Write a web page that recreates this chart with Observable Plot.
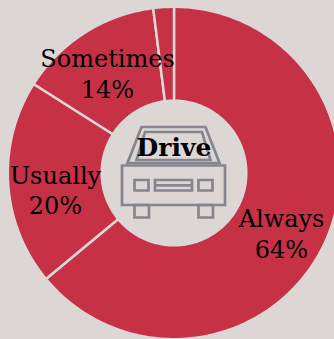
<!DOCTYPE html>
<html>
<head>
<meta charset="utf-8">
<script src="https://cdn.jsdelivr.net/npm/d3@7"></script>
<script src="https://cdn.jsdelivr.net/npm/@observablehq/plot@0.6"></script>
<style>
html,body{margin:0;padding:0;background:#dcd7d5;overflow:hidden}
svg{display:block}
</style>
</head>
<body>
<div id="chart"></div>
<script>
const categories = ["Always", "Usually", "Sometimes", "Rarely"];
const shares = [64, 20, 14, 2];
const shownLabels = ["Always", "Usually", "Sometimes"];
const shownValues = ["64%", "20%", "14%"];
const centerTitle = "Drive";

const bg = "#dcd7d5", red = "#c63145", grey = "#84858f";
const cx = 173.5, cy = 172.5, R = 166.2, r = 72.3;
const labelPos = {Always: [281, 219, 250], Usually: [55, 176, 206], Sometimes: [107, 59, 90]};

const arcs = d3.pie().sort(null).value((d) => d)(shares);
const slices = arcs.flatMap((a, k) => {
  const pts = [];
  const steps = Math.max(4, Math.ceil((a.endAngle - a.startAngle) * 60));
  for (let i = 0; i <= steps; ++i) {
    const t = a.startAngle + (a.endAngle - a.startAngle) * i / steps;
    pts.push({cat: categories[k], x: cx + R * Math.sin(t), y: cy - R * Math.cos(t)});
  }
  for (let i = steps; i >= 0; --i) {
    const t = a.startAngle + (a.endAngle - a.startAngle) * i / steps;
    pts.push({cat: categories[k], x: cx + r * Math.sin(t), y: cy - r * Math.cos(t)});
  }
  pts.push(pts[0]);
  return pts;
});

const nameRows = shownLabels.map((c) => ({t: c, x: labelPos[c][0], y: labelPos[c][1]}));
const valueRows = shownLabels.map((c, i) => ({t: shownValues[i], x: labelPos[c][0], y: labelPos[c][2]}));

function carIcon(index, scales) {
  const g = d3.create("svg:g")
    .attr("transform", `translate(${scales.x(cx)},${scales.y(cy - 0.5)})`)
    .attr("fill", "none").attr("stroke", grey).attr("stroke-width", 2.7);
  const paths = [
    "M-32,-45H32L46,-9H-46Z",
    "M-28.5,-40H28.5L37,-12H-37Z",
    "M-51.5,-6.5H51.5V33H-51.5Z",
    "M-39,8H-25V18.5H-39Z",
    "M-18.5,8H18.5V18.5H-18.5Z",
    "M-18.5,13.3H18.5",
    "M25,8H39V18.5H25Z",
    "M-39,33H-24.5V45.5H-39Z",
    "M25,33H39.5V45.5H25Z"
  ];
  for (const d of paths) g.append("path").attr("d", d);
  return g.node();
}

const font = "'DejaVu Serif', serif";
const plot = Plot.plot({
  width: 334, height: 339, margin: 0,
  style: {background: bg},
  x: {domain: [0, 334], range: [0, 334], axis: null},
  y: {domain: [0, 339], range: [0, 339], axis: null},
  marks: [
    Plot.line(slices, {x: "x", y: "y", z: "cat", fill: red, stroke: bg, strokeWidth: 2.5, curve: "linear"}),
    carIcon,
    Plot.text(nameRows, {x: "x", y: "y", text: "t", fontSize: 24, fontFamily: font, fill: "#000", textAnchor: "middle"}),
    Plot.text(valueRows, {x: "x", y: "y", text: "t", fontSize: 24, fontFamily: font, fill: "#000", textAnchor: "middle"}),
    Plot.text([centerTitle], {x: () => 173.5, y: () => 147, text: (d) => d, fontSize: 25, fontWeight: "bold", fontFamily: font, fill: "#000", textAnchor: "middle"})
  ]
});
document.getElementById("chart").append(plot);
</script>
</body>
</html>
